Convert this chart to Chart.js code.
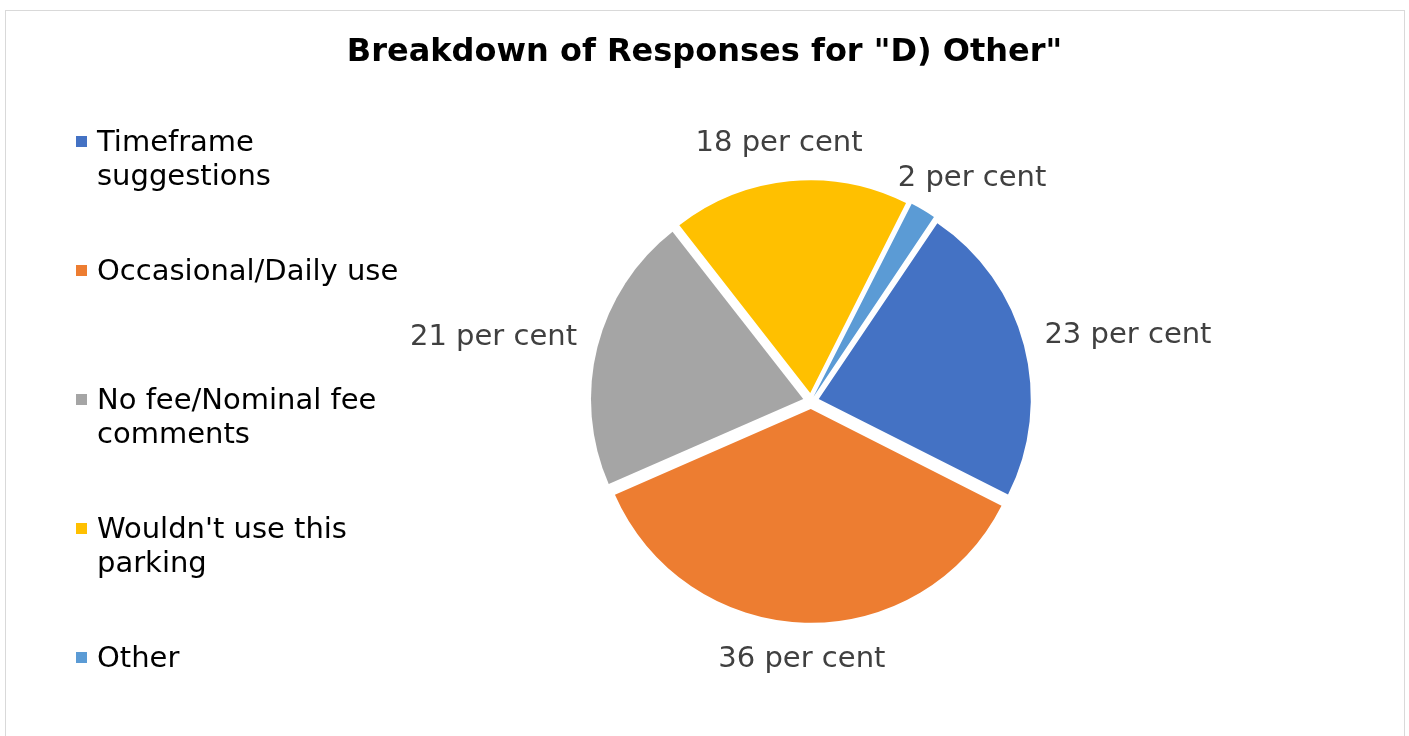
<!DOCTYPE html>
<html>
<head>
<meta charset="utf-8">
<script src="https://cdn.jsdelivr.net/npm/chart.js@4/dist/chart.umd.min.js"></script>
<style>
  html, body { margin: 0; padding: 0; background: #fff; overflow: hidden; }
  body { width: 1409px; height: 736px; position: relative; font-family: "DejaVu Sans", Verdana, sans-serif; }
  #frame { position: absolute; left: 5px; top: 10px; width: 1400px; height: 760px; border: 1px solid #d9d9d9; box-sizing: border-box; }
  #chartBox { position: absolute; left: 0; top: 0; width: 1409px; height: 736px; }
  #title { position: absolute; left: 0; top: 30px; width: 1409px; text-align: center; font-size: 32px; line-height: 40px; font-weight: bold; color: #000; margin: 0; }
  #legend { position: absolute; left: 76px; top: 124px; margin: 0; padding: 0; list-style: none; }
  #legend li { height: 129px; display: flex; align-items: flex-start; font-size: 29px; line-height: 34px; color: #000; white-space: nowrap; }
  #legend .box { width: 11px; height: 11px; margin: 12px 10px 0 0; flex: none; }
</style>
</head>
<body>
<div id="frame"></div>
<div id="chartBox"><canvas id="pieOther" width="1409" height="736"></canvas></div>
<h1 id="title">Breakdown of Responses for "D) Other"</h1>
<ul id="legend"></ul>
<script>
// ---------- data ----------
const categories = [
  ["Timeframe", "suggestions"],
  ["Occasional/Daily use"],
  ["No fee/Nominal fee", "comments"],
  ["Wouldn't use this", "parking"],
  ["Other"]
];
const shares = [23, 36, 21, 18, 2];
const sliceColors = ["#4472C4", "#ED7D31", "#A5A5A5", "#FFC000", "#5B9BD5"];
const labelSuffix = " per cent";

const FONT = '"DejaVu Sans", Verdana, sans-serif';

// outside labels, like Excel's "best fit"
const outsideLabels = {
  id: "outsideLabels",
  afterDatasetsDraw(chart) {
    const { ctx } = chart;
    const meta = chart.getDatasetMeta(0);
    ctx.save();
    ctx.font = `29px ${FONT}`;
    ctx.fillStyle = "#404040";
    ctx.textAlign = "center";
    ctx.textBaseline = "middle";
    meta.data.forEach((arc, i) => {
      const { x, y, startAngle, endAngle, outerRadius } = arc.getProps(["x", "y", "startAngle", "endAngle", "outerRadius"], true);
      const mid = (startAngle + endAngle) / 2;
      const text = shares[i] + labelSuffix;
      const w = ctx.measureText(text).width;
      const h = 29;
      const r = outerRadius + 8 + 24;
      const cx = x + Math.cos(mid) * (r + w / 2);
      const cy = y + Math.sin(mid) * (r + h / 2);
      ctx.fillText(text, cx, cy);
    });
    ctx.restore();
  }
};

// html legend built from the chart's own legend items
const htmlLegend = {
  id: "htmlLegend",
  afterUpdate(chart) {
    const ul = document.getElementById("legend");
    ul.innerHTML = "";
    const items = chart.options.plugins.legend.labels.generateLabels(chart);
    items.forEach(item => {
      const li = document.createElement("li");
      const box = document.createElement("span");
      box.className = "box";
      box.style.background = item.fillStyle;
      const txt = document.createElement("span");
      const lines = Array.isArray(item.text) ? item.text : [item.text];
      txt.innerHTML = lines.join("<br>");
      li.appendChild(box);
      li.appendChild(txt);
      ul.appendChild(li);
    });
  }
};

const ctx = document.getElementById("pieOther");
new Chart(ctx, {
  type: "pie",
  data: {
    labels: categories,
    datasets: [{
      data: shares,
      backgroundColor: sliceColors,
      borderWidth: 0,
      offset: [32, 32, 32, 32, 20],
      hoverOffset: 0
    }]
  },
  options: {
    responsive: false,
    animation: false,
    rotation: 34,
    radius: 212,
    layout: { padding: { left: 500, right: 287, top: 77, bottom: 11 } },
    plugins: {
      legend: { display: false },
      tooltip: { enabled: false },
      title: { display: false }
    }
  },
  plugins: [outsideLabels, htmlLegend]
});
</script>
</body>
</html>
